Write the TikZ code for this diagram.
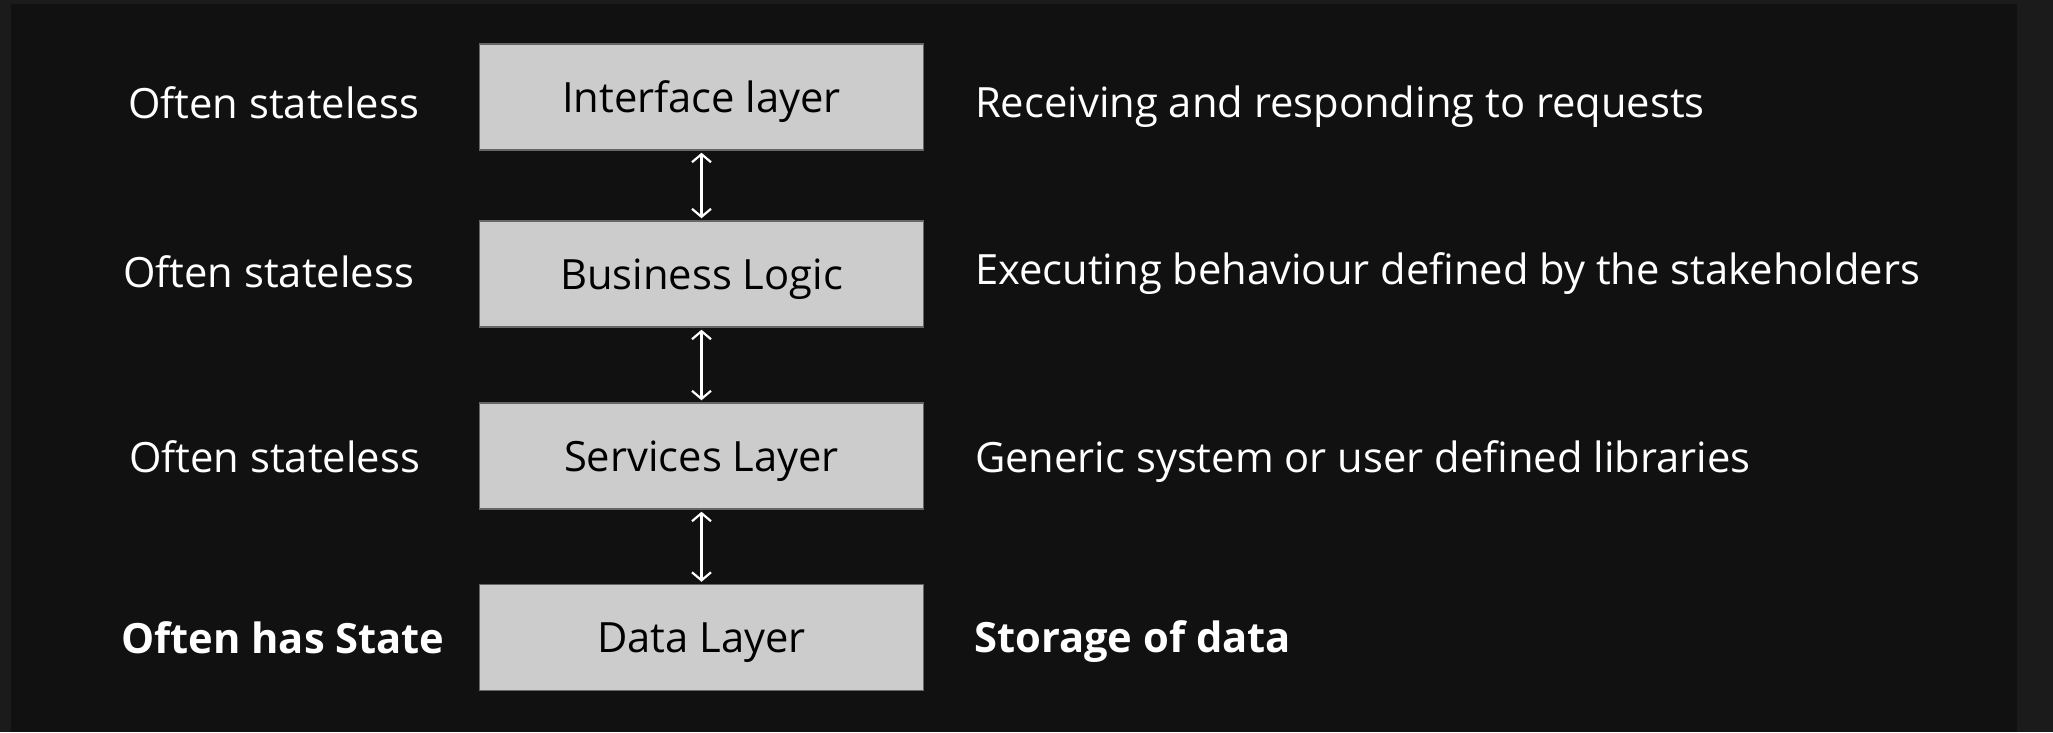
\documentclass[tikz,border=0pt]{standalone}
\usepackage{fontspec}
\setmainfont{Open Sans}
\usetikzlibrary{arrows.meta}
\definecolor{frame}{HTML}{1B1B1B}
\definecolor{bg}{HTML}{111111}
\definecolor{boxfill}{HTML}{CCCCCC}
\definecolor{boxline}{HTML}{666666}
\begin{document}
\begin{tikzpicture}[x=1pt,y=-1pt,
  layerbox/.style={draw=boxline,line width=1.5pt,fill=boxfill,rectangle,inner sep=0pt,
    minimum width=444pt,minimum height=106pt,text height=38pt,text depth=8pt,
    font=\fontsize{41.7}{48}\selectfont,text=black},
  sidetext/.style={anchor=base west,inner sep=0pt,text=white,font=\fontsize{41.7}{48}\selectfont},
  boldtext/.style={sidetext,font=\fontsize{41.7}{48}\selectfont\bfseries},
  link/.style={draw=white,line width=2.2pt,{Straight Barb[length=8pt,width=19pt]}-{Straight Barb[length=8pt,width=19pt]},shorten <=2pt,shorten >=2pt}]
\useasboundingbox (0,0) rectangle (2053,732);
\fill[frame] (0,0) rectangle (2053,732);
\fill[bg] (11,4) rectangle (2017,732);

\node[layerbox] (iface) at (701.5,97) {Interface layer};
\node[layerbox] (biz) at (701.5,274) {Business Logic};
\node[layerbox] (serv) at (701.5,456) {Services Layer};
\node[layerbox] (data) at (701.5,637.5) {Data Layer};

\draw[link] (iface.south) -- (biz.north);
\draw[link] (biz.south) -- (serv.north);
\draw[link] (serv.south) -- (data.north);

\node[sidetext] (l1) at (128,118) {Often stateless};
\node[sidetext] (l2) at (123,287) {Often stateless};
\node[sidetext] (l3) at (129,472) {Often stateless};
\node[boldtext] (l4) at (121,653) {Often has State};

\node[sidetext] (r1) at (975,117) {Receiving and responding to requests};
\node[sidetext] (r2) at (975,284) {Executing behaviour defined by the stakeholders};
\node[sidetext] (r3) at (975,472) {Generic system or user defined libraries};
\node[boldtext] (r4) at (974,652) {Storage of data};
\end{tikzpicture}
\end{document}
